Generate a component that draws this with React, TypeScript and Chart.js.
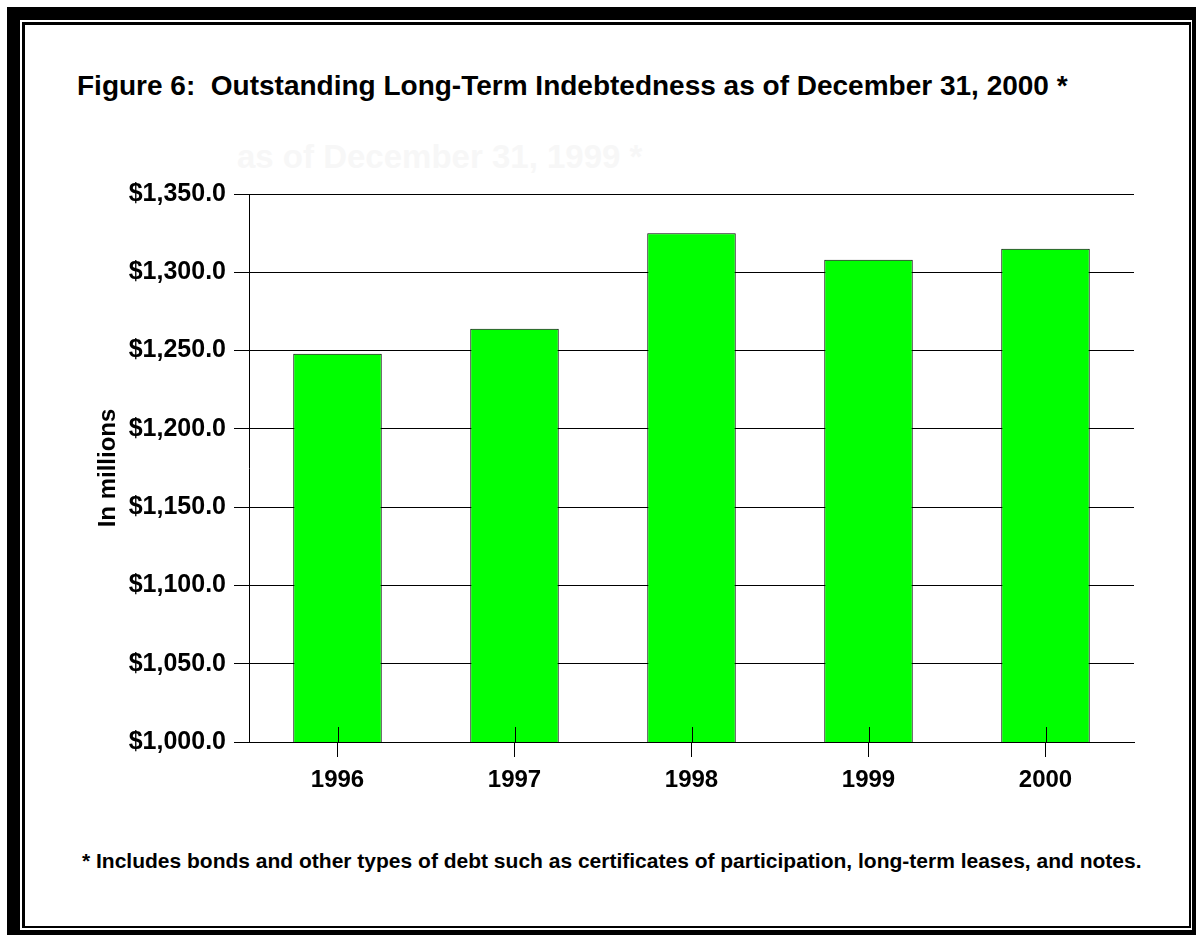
import React, { useEffect, useRef } from "react";
import { Chart, registerables } from "chart.js";

Chart.register(...registerables);

const categories = ["1996", "1997", "1998", "1999", "2000"];
const debtValues = [1248, 1264, 1325, 1308, 1315];
const yMin = 1000;
const yMax = 1350;
const yStep = 50;
const titleText = "Figure 6:  Outstanding Long-Term Indebtedness as of December 31, 2000 *";
const ghostText = "as of December 31, 1999 *";
const yAxisTitle = "In millions";
const footnoteText =
  "* Includes bonds and other types of debt such as certificates of participation, long-term leases, and notes.";

const FONT = '"Liberation Sans", Arial, sans-serif';

const crossTicks = {
  id: "crossTicks",
  afterDatasetsDraw(chart: any) {
    const xs = chart.scales.x;
    const ctx = chart.ctx;
    const bottom = chart.chartArea.bottom;
    ctx.save();
    ctx.strokeStyle = "#000";
    ctx.lineWidth = 1;
    ctx.beginPath();
    for (let i = 0; i < xs.ticks.length; i++) {
      const x = Math.round(xs.getPixelForTick(i)) + 0.5;
      ctx.moveTo(x, bottom - 15);
      ctx.lineTo(x, bottom);
    }
    ctx.stroke();
    ctx.restore();
  },
};

export default function App() {
  const ref = useRef<HTMLCanvasElement | null>(null);

  useEffect(() => {
    if (!ref.current) return;
    const padLeft = 90;
    const chart = new Chart(ref.current, {
      type: "bar",
      data: {
        labels: categories,
        datasets: [
          {
            data: debtValues,
            backgroundColor: "#00ff00",
            borderColor: "#000000",
            borderWidth: 1,
            barPercentage: 0.5,
            categoryPercentage: 1.0,
          },
        ],
      },
      options: {
        responsive: false,
        animation: false,
        devicePixelRatio: 1,
        layout: { padding: { left: padLeft, right: 62, top: 194, bottom: 0 } },
        plugins: {
          legend: { display: false },
          tooltip: { enabled: false },
          title: { display: false },
        },
        scales: {
          x: {
            grid: {
              offset: false,
              drawOnChartArea: false,
              drawTicks: true,
              tickLength: 15,
              color: "#000",
              lineWidth: 1,
            },
            border: { display: true, color: "#000", width: 1 },
            ticks: {
              color: "#000",
              padding: 9,
              font: { family: FONT, size: 24, weight: "bold" },
            },
            afterFit: (scale: any) => {
              scale.height = 938 - 742;
            },
          },
          y: {
            min: yMin,
            max: yMax,
            grid: {
              color: "#000",
              lineWidth: 1,
              drawTicks: true,
              tickLength: 15,
            },
            border: { display: true, color: "#000", width: 1 },
            ticks: {
              stepSize: yStep,
              color: "#000",
              padding: 8,
              font: { family: FONT, size: 25, weight: "bold" },
              callback: (v: any) =>
                "$" +
                Number(v).toLocaleString("en-US", {
                  minimumFractionDigits: 1,
                  maximumFractionDigits: 1,
                }),
            },
            title: {
              display: true,
              text: yAxisTitle,
              color: "#000",
              font: { family: FONT, size: 24, weight: "bold" },
              padding: { top: 4, bottom: 0 },
            },
            afterFit: (scale: any) => {
              scale.width = 249 - padLeft;
            },
          },
        },
      },
      plugins: [crossTicks],
    });
    return () => chart.destroy();
  }, []);

  return (
    <div
      style={{
        position: "fixed",
        left: 0,
        top: 0,
        width: 1196,
        height: 938,
        overflow: "hidden",
        background: "#fff",
      }}
    >
      <div
        style={{
          position: "absolute",
          left: 7,
          top: 7,
          width: 1189,
          height: 928,
          background: "#000",
        }}
      />
      <div
        style={{
          position: "absolute",
          left: 20,
          top: 20,
          width: 1172,
          height: 910,
          background: "#fff",
        }}
      />
      <div
        style={{
          position: "absolute",
          left: 22,
          top: 22,
          width: 1169,
          height: 906,
          boxSizing: "border-box",
          borderTop: "3px solid #000",
          borderLeft: "3px solid #000",
          borderRight: "2px solid #000",
          borderBottom: "2px solid #000",
        }}
      />
      <div
        style={{
          position: "absolute",
          left: 77,
          top: 72,
          fontFamily: FONT,
          fontWeight: "bold",
          fontSize: 28,
          lineHeight: 1,
          whiteSpace: "pre",
          color: "#000",
        }}
      >
        {titleText}
      </div>
      <div
        style={{
          position: "absolute",
          left: 237,
          top: 140,
          fontFamily: FONT,
          fontWeight: "bold",
          fontSize: 33,
          lineHeight: 1,
          whiteSpace: "pre",
          color: "#f7f7f7",
        }}
      >
        {ghostText}
      </div>
      <div
        style={{
          position: "absolute",
          left: 82,
          top: 850,
          fontFamily: FONT,
          fontWeight: "bold",
          fontSize: 21,
          lineHeight: 1,
          whiteSpace: "pre",
          color: "#000",
        }}
      >
        {footnoteText}
      </div>
      <canvas
        ref={ref}
        width={1196}
        height={938}
        style={{ position: "absolute", left: 0, top: 0, width: 1196, height: 938 }}
      />
    </div>
  );
}
